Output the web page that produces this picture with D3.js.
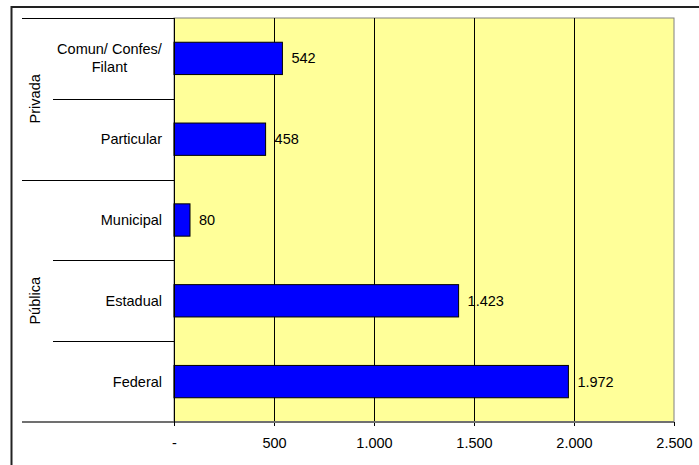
<!DOCTYPE html>
<html>
<head>
<meta charset="utf-8">
<script src="https://cdn.jsdelivr.net/npm/d3@7"></script>
<style>
  html, body { margin: 0; padding: 0; background: #fff; }
  svg { display: block; }
  text { font-family: "Liberation Sans", Arial, sans-serif; fill: #000; }
</style>
</head>
<body>
<svg id="chart" width="699" height="465"></svg>
<script>
// Instituições por dependência administrativa
const categories = ["Comun/ Confes/\nFilant", "Particular", "Municipal", "Estadual", "Federal"];
const values = [542, 458, 80, 1423, 1972];
const groups = ["Privada", "Privada", "Pública", "Pública", "Pública"];
const groupNames = ["Privada", "Pública"];
const xTicks = [0, 500, 1000, 1500, 2000, 2500];

const fmt = v => v === 0 ? "-" : d3.format(",")(v).replace(/,/g, ".");

const svg = d3.select("#chart");
const fontSize = 14.5;

const plot = { left: 174, right: 674, top: 18, bottom: 422 };

const x = d3.scaleLinear().domain([0, 2500]).range([plot.left, plot.right]);
const y = d3.scaleBand().domain(d3.range(categories.length)).range([plot.top, plot.bottom]).paddingInner(0).paddingOuter(0);
const barH = y.bandwidth() / 2.5;

// outer frame
svg.append("path")
  .attr("d", `M11.5,465 L11.5,7 L699,7`)
  .attr("fill", "none").attr("stroke", "#222").attr("stroke-width", 2);

// plot background
svg.append("rect")
  .attr("x", plot.left).attr("y", plot.top)
  .attr("width", plot.right - plot.left).attr("height", plot.bottom - plot.top)
  .attr("fill", "#FFFF99").attr("stroke", "#808080").attr("stroke-width", 1);

// vertical gridlines
svg.append("g").selectAll("line")
  .data(xTicks.slice(1, -1))
  .join("line")
  .attr("x1", d => Math.round(x(d)) + 0.5).attr("x2", d => Math.round(x(d)) + 0.5)
  .attr("y1", plot.top).attr("y2", plot.bottom)
  .attr("stroke", "#000").attr("stroke-width", 1);

// bars
svg.append("g").selectAll("rect")
  .data(values)
  .join("rect")
  .attr("x", x(0))
  .attr("y", (d, i) => y(i) + (y.bandwidth() - barH) / 2)
  .attr("width", d => x(d) - x(0))
  .attr("height", barH)
  .attr("fill", "#0000FF")
  .attr("stroke", "#000").attr("stroke-width", 1);

// value labels
svg.append("g").selectAll("text")
  .data(values)
  .join("text")
  .attr("x", d => x(d) + 9)
  .attr("y", (d, i) => y(i) + y.bandwidth() / 2)
  .attr("dy", "0.35em")
  .attr("font-size", fontSize)
  .text(d => fmt(d));

// x axis
const xAxis = d3.axisBottom(x).tickValues(xTicks).tickFormat(fmt).tickSize(4).tickPadding(12);
const gx = svg.append("g").attr("transform", `translate(0,${plot.bottom})`).call(xAxis);
gx.select(".domain").remove();
gx.selectAll(".tick line").attr("stroke", "#000");
gx.selectAll(".tick text").attr("font-size", fontSize).attr("font-family", "Liberation Sans, Arial, sans-serif");

// bottom axis line (extends under the category labels)
svg.append("line")
  .attr("x1", 22).attr("x2", plot.right).attr("y1", plot.bottom).attr("y2", plot.bottom)
  .attr("stroke", "#707070").attr("stroke-width", 2);

// vertical category axis line
svg.append("line")
  .attr("x1", plot.left + 0.5).attr("x2", plot.left + 0.5)
  .attr("y1", plot.top).attr("y2", plot.bottom + 4)
  .attr("stroke", "#000").attr("stroke-width", 1);

// category separators: long ones between groups, short ones within
const boundaries = d3.range(categories.length + 1).map(i => i);
svg.append("g").selectAll("line")
  .data(boundaries.slice(0, -1))
  .join("line")
  .attr("x1", i => (i === 0 || groups[i] !== groups[i - 1]) ? 22 : 53)
  .attr("x2", plot.left)
  .attr("y1", i => Math.round(y(i)) + 0.5)
  .attr("y2", i => Math.round(y(i)) + 0.5)
  .attr("stroke", "#000").attr("stroke-width", 1);

// category labels
const catG = svg.append("g");
categories.forEach((c, i) => {
  const lines = c.split("\n");
  const cy = y(i) + y.bandwidth() / 2;
  const lh = 18;
  if (lines.length === 1) {
    catG.append("text")
      .attr("x", 162).attr("y", cy).attr("dy", "0.35em")
      .attr("text-anchor", "end").attr("font-size", fontSize)
      .text(lines[0]);
  } else {
    const t = catG.append("text").attr("font-size", fontSize).attr("text-anchor", "middle");
    const w0 = 107;
    lines.forEach((l, k) => {
      t.append("tspan")
        .attr("x", 163 - w0 / 2)
        .attr("y", cy + (k - (lines.length - 1) / 2) * lh)
        .attr("dy", "0.35em")
        .text(l);
    });
  }
});

// group labels (rotated)
groupNames.forEach(g => {
  const idx = groups.map((d, i) => d === g ? i : -1).filter(i => i >= 0);
  const y0 = y(idx[0]);
  const y1 = y(idx[idx.length - 1]) + y.bandwidth();
  const cy = (y0 + y1) / 2;
  svg.append("text")
    .attr("transform", `translate(35,${cy}) rotate(-90)`)
    .attr("text-anchor", "middle").attr("dy", "0.35em")
    .attr("font-size", fontSize)
    .text(g);
});
</script>
</body>
</html>
